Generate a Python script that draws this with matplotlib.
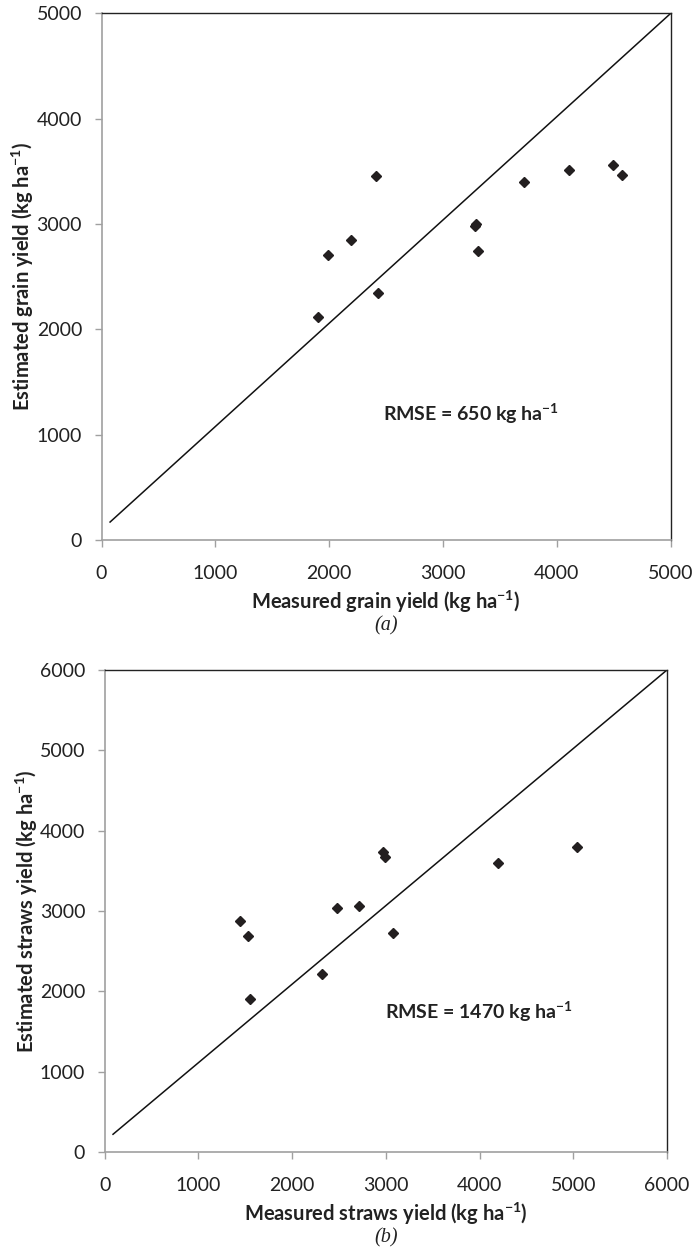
import matplotlib
matplotlib.use("Agg")
import matplotlib.pyplot as plt

plt.rcParams['font.family'] = ['Lato', 'DejaVu Sans']
plt.rcParams['mathtext.fontset'] = 'custom'
plt.rcParams['mathtext.rm'] = 'Lato'
plt.rcParams['mathtext.bf'] = 'Lato:bold'

# grain yield, kg/ha
grain_measured = [1900, 1990, 2190, 2410, 2430, 3280, 3290, 3310, 3710, 4110, 4490, 4570]
grain_estimated = [2120, 2710, 2850, 3460, 2350, 2980, 3000, 2745, 3400, 3515, 3560, 3465]
grain_line_x = [75, 5000]
grain_line_y = [170, 5000]
grain_rmse = 650

# straw yield, kg/ha
straw_measured = [1440, 1530, 1550, 2320, 2480, 2710, 2970, 2990, 3080, 4200, 5040]
straw_estimated = [2870, 2690, 1900, 2210, 3040, 3060, 3740, 3670, 2730, 3600, 3800]
straw_line_x = [90, 6000]
straw_line_y = [220, 6000]
straw_rmse = 1470

grain_ticks = [0, 1000, 2000, 3000, 4000, 5000]
straw_ticks = [0, 1000, 2000, 3000, 4000, 5000, 6000]

mark = '#231f20'
grey = '#a0a0a0'
ink = '#222222'
unit = r'(kg ha$^{\mathbf{-1}}$)'

fig = plt.figure(figsize=(6.94, 12.49), dpi=100)
ax1 = fig.add_axes([0.1463, 0.5677, 0.8199, 0.4215])
ax2 = fig.add_axes([0.1507, 0.0777, 0.8104, 0.3859])


def style(ax, ticks, lim):
    ax.set_xlim(0, lim)
    ax.set_ylim(0, lim)
    ax.set_xticks(ticks)
    ax.set_yticks(ticks)
    for s in ['left', 'bottom']:
        ax.spines[s].set_color(grey)
        ax.spines[s].set_linewidth(1.2)
    for s in ['top', 'right']:
        ax.spines[s].set_color(ink)
        ax.spines[s].set_linewidth(1.0)
    ax.tick_params(direction='out', length=5, width=1.0, color=grey,
                   labelsize=14, labelcolor=ink)
    ax.tick_params(axis='x', pad=13)
    ax.tick_params(axis='y', pad=9)


def panel(ax, xs, ys, lx, ly, ticks, lim, name, rmse, tx, ty, letter, h_px):
    ax.plot(lx, ly, color='#111111', lw=1.1)
    ax.plot(xs, ys, 'D', color=mark, ms=5.5, clip_on=False)
    style(ax, ticks, lim)
    ax.set_xlabel('Measured %s yield ' % name + unit,
                  fontsize=14.5, fontweight='bold', color=ink)
    ax.set_ylabel('Estimated %s yield ' % name + unit,
                  fontsize=14.5, fontweight='bold', color=ink)
    ax.xaxis.set_label_coords(0.5, -62 / h_px)
    ax.xaxis.label.set_verticalalignment('center')
    ax.yaxis.set_label_coords(-0.138, 0.5)
    ax.yaxis.label.set_verticalalignment('center')
    ax.text(tx, ty, 'RMSE = %d kg ha' % rmse + r'$^{\mathbf{-1}}$', fontsize=14,
            fontweight='bold', color=ink, va='center')
    ax.text(0.5, -86 / h_px, '(%s)' % letter, transform=ax.transAxes,
            ha='center', va='center', fontsize=14.5, family='Liberation Serif',
            style='italic', color=ink)


panel(ax1, grain_measured, grain_estimated, grain_line_x, grain_line_y,
      grain_ticks, 5000, 'grain', grain_rmse, 2470, 1200, 'a', 526)
panel(ax2, straw_measured, straw_estimated, straw_line_x, straw_line_y,
      straw_ticks, 6000, 'straws', straw_rmse, 2990, 1750, 'b', 482)

fig.savefig('out.png', dpi=100)
